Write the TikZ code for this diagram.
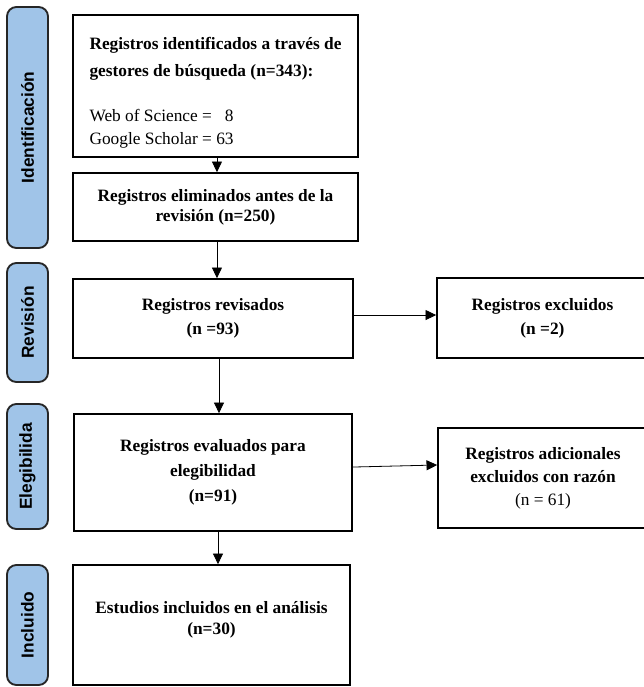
\documentclass[tikz,border=0pt]{standalone}
\usepackage{fontspec}
\setmainfont{Liberation Serif}
\newfontfamily\fasefont{Liberation Sans}
\usetikzlibrary{arrows.meta}
\definecolor{faseblue}{RGB}{160,196,232}

\begin{document}
\begin{tikzpicture}[x=0.75pt,y=-0.75pt,
		caja/.style={draw, line width=1.2pt, inner sep=0pt, align=center},
		fase/.style={draw=black!85, line width=1.4pt, fill=faseblue, rounded corners=7pt,
			rotate=90, inner sep=0pt, minimum height=30.75pt,
			font=\fasefont\fontsize{13}{15}\selectfont\bfseries},
		flecha/.style={-{Triangle[length=8pt,width=7.5pt]}, line width=0.6pt}]
		\useasboundingbox (0,0) rectangle (644,687);

		% fases
		\node[fase, minimum width=180.75pt] (ident) at (27.5,127.5) {Identificación};
		\node[fase, minimum width=89.25pt] (revis) at (27.5,322.5) {Revisión};
		\node[fase, minimum width=93.75pt] (elegi) at (27.5,466.5) {Elegibilida};
		\node[fase, minimum width=90pt] (inclu) at (27.5,625) {Incluido};

		% cajas
		\node[caja, minimum width=213.75pt, minimum height=106.5pt, align=left,
			font=\fontsize{13}{17}\selectfont] (b1) at (215.5,86)
			{\rule{0pt}{19pt}\textbf{Registros identificados a través de}\\[3pt]
			\textbf{gestores de búsqueda (n=343):}\\[17pt]
			Web of Science = \hphantom{6}8\\
			Google Scholar = 63};
		\node[caja, minimum width=213.75pt, minimum height=51pt,
			font=\fontsize{13}{15}\selectfont\bfseries] (b2) at (215.5,207)
			{Registros eliminados antes de la\\ revisión (n=250)};
		\node[caja, minimum width=210pt, minimum height=59.25pt,
			font=\fontsize{13}{18}\selectfont\bfseries] (b3) at (213,318.5)
			{Registros revisados\\ (n =93)};
		\node[caja, minimum width=208.5pt, minimum height=87.75pt,
			font=\fontsize{13}{18.75}\selectfont\bfseries] (b4) at (213,472.5)
			{Registros evaluados para\\ elegibilidad\\ (n=91)};
		\node[caja, minimum width=207.75pt, minimum height=90pt,
			font=\fontsize{13}{15.75}\selectfont\bfseries] (b5) at (211.5,625)
			{Estudios incluidos en el análisis\\ (n=30)\rule[-11pt]{0pt}{0pt}};
		\node[caja, minimum width=158.25pt, minimum height=60pt,
			font=\fontsize{13}{18}\selectfont\bfseries] (exc) at (542.5,318)
			{Registros excluidos\\ (n =2)};
		\node[caja, minimum width=157.5pt, minimum height=75pt,
			font=\fontsize{13}{17.25}\selectfont\bfseries] (adi) at (543,478)
			{Registros adicionales\\ excluidos con razón\\ {\mdseries (n = 61)}};

		% flechas
		\draw[flecha] ([xshift=1.1pt]b1.south) -- ([xshift=1.1pt]b1.south |- b2.north);
		\draw[flecha] ([xshift=1.1pt]b2.south) -- ([xshift=1.1pt]b2.south |- b3.north);
		\draw[flecha] ([xshift=4.5pt]b3.south) -- ([xshift=4.5pt]b3.south |- b4.north);
		\draw[flecha] ([xshift=3.75pt]b4.south) -- ([xshift=3.75pt]b4.south |- b5.north);
		\draw[flecha] ([yshift=2.6pt]b3.east) -- ([yshift=2.6pt]b3.east -| exc.west);
		\draw[flecha] ([yshift=4.1pt]b4.east) -- ([yshift=9.75pt]adi.west);
\end{tikzpicture}
\end{document}
